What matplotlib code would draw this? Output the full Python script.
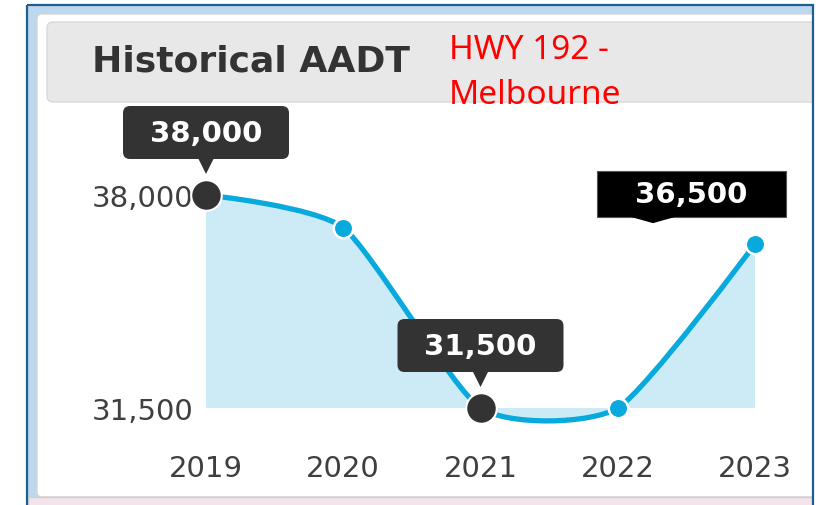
import matplotlib
matplotlib.use('Agg')
import numpy as np
import matplotlib.pyplot as plt
from matplotlib.patches import Rectangle, FancyBboxPatch, Polygon, PathPatch
from matplotlib.path import Path

years = [2019, 2020, 2021, 2022, 2023]
aadt = [38000, 37000, 31500, 31500, 36500]
y_ticks = [31500, 38000]
tooltip_years = [2019, 2021]   # points shown with the dark hover tooltip
callout_year = 2023            # point with the pasted black label
title = 'Historical AADT'
note = ['HWY 192 -', 'Melbourne']

line_color = '#08a9dc'
fill_color = '#cdebf7'
dark = '#333333'

plt.rcParams['font.family'] = ['DejaVu Sans']

W, H = 828, 506
fig = plt.figure(figsize=(W / 100, H / 100), dpi=100)


def pixel_axes(z):
    a = fig.add_axes([0, 0, 1, 1], zorder=z)
    a.set_xlim(0, W)
    a.set_ylim(H, 0)
    a.axis('off')
    a.patch.set_alpha(0)
    return a


# --- widget frame / header ---
bg = pixel_axes(0)
bg.add_patch(Rectangle((27, 6), 786, 500, fc='#bdd7ee', ec='none'))
bg.add_patch(FancyBboxPatch((37, 15), 800, 483, boxstyle='round,pad=0,rounding_size=5',
                            fc='white', ec='#d4d4d4', lw=1))
bg.add_patch(Rectangle((28, 498), 785, 12, fc='#f2e4ea', ec='#cfcfcf', lw=1))
bg.add_patch(FancyBboxPatch((47, 23), 800, 80, boxstyle='round,pad=0,rounding_size=6',
                            fc='#e8e8e8', ec='#d9d9d9', lw=1))
bg.add_patch(Rectangle((813, 0), 30, H, fc='white', ec='none'))
bg.add_patch(Rectangle((27, 6), 786, 520, fill=False, ec='#1f5f8e', lw=1.6))
bg.text(92, 61, title, fontsize=26, fontweight='bold', color='#333333', va='center')

# --- plot area, calibrated so the values land where the widget draws them ---
X0, X1 = 206, 755      # pixel columns of first / last year
Y_HI, Y_LO = 196, 409  # pixel rows of the two y ticks
left, right, top, bottom = 196, 800, 100, 445
ax = fig.add_axes([left / W, 1 - bottom / H, (right - left) / W, (bottom - top) / H], zorder=1)
ax.patch.set_alpha(0)
sx = (X1 - X0) / (years[-1] - years[0])
sy = (Y_LO - Y_HI) / (y_ticks[1] - y_ticks[0])
ax.set_xlim(years[0] - (X0 - left) / sx, years[0] + (right - X0) / sx)
ax.set_ylim(y_ticks[0] - (bottom - Y_LO) / sy, y_ticks[1] + (Y_HI - top) / sy)
for s in ax.spines.values():
    s.set_visible(False)
ax.set_xticks(years)
ax.set_xticklabels([str(y) for y in years])
ax.set_yticks(y_ticks)
ax.set_yticklabels([f'{v:,}' for v in y_ticks])
ax.tick_params(length=0, labelsize=21, colors='#3f3f3f')
ax.tick_params(axis='y', pad=2)
ax.tick_params(axis='x', pad=7)

# smooth line: cardinal spline as bezier path (ends keep their own point as handle)
pts = np.column_stack([years, aadt]).astype(float)
k = 0.1
n = len(pts)
c_in, c_out = [], []
for i in range(n):
    if i == 0 or i == n - 1:
        c_in.append(pts[i])
        c_out.append(pts[i])
    else:
        d = pts[i + 1] - pts[i - 1]
        c_in.append(pts[i] - k * d)
        c_out.append(pts[i] + k * d)
verts = [pts[0]]
codes = [Path.MOVETO]
for i in range(n - 1):
    verts += [c_out[i], c_in[i + 1], pts[i + 1]]
    codes += [Path.CURVE4] * 3
verts = np.array(verts)

base = y_ticks[0]
fill_verts = np.vstack([verts, [[years[-1], base], [years[0], base], verts[0]]])
fill_codes = codes + [Path.LINETO, Path.LINETO, Path.CLOSEPOLY]
ax.add_patch(PathPatch(Path(fill_verts, fill_codes), fc=fill_color, ec='none', zorder=1))
ax.add_patch(PathPatch(Path(verts, codes), fill=False, ec=line_color, lw=3.8,
                       capstyle='round', zorder=2, clip_on=False))

for yr, v in zip(years, aadt):
    if yr in tooltip_years:
        ax.plot(yr, v, 'o', ms=22, mfc=dark, mec='white', mew=1.5, clip_on=False, zorder=4)
    else:
        ax.plot(yr, v, 'o', ms=14, mfc=line_color, mec='white', mew=1.8, clip_on=False, zorder=4)

# --- tooltips and notes on top ---
ov = pixel_axes(3)


def to_px(x, y):
    return ov.transData.inverted().transform(ax.transData.transform((x, y)))


for yr, v in zip(years, aadt):
    if yr in tooltip_years:
        cx, cy = to_px(yr, v)
        ov.add_patch(FancyBboxPatch((cx - 83, cy - 89), 166, 53,
                                    boxstyle='round,pad=0,rounding_size=7', fc=dark, ec='none'))
        ov.add_patch(Polygon([(cx - 8, cy - 37), (cx + 8, cy - 37), (cx, cy - 21)], fc=dark, ec='none'))
        ov.text(cx, cy - 62, f'{v:,}', color='white', fontsize=21, fontweight='bold',
                ha='center', va='center')
    if yr == callout_year:
        cx, cy = to_px(yr, v)
        ov.add_patch(Rectangle((cx - 158, cy - 73), 189, 46, fc='black', ec='#555555', lw=0.8))
        ov.add_patch(Polygon([(cx - 125, cy - 27.5), (cx - 79, cy - 27.5), (cx - 102, cy - 21)],
                             fc='black', ec='none'))
        ov.text(cx - 63.5, cy - 50, f'{v:,}', color='white', fontsize=21, fontweight='bold',
                ha='center', va='center')

ov.text(449, 59, note[0], color='#ff0000', fontsize=24, family='Noto Sans', va='baseline')
ov.text(449, 104, note[1], color='#ff0000', fontsize=24, family='Noto Sans', va='baseline')

fig.savefig('out.png', dpi=100)
